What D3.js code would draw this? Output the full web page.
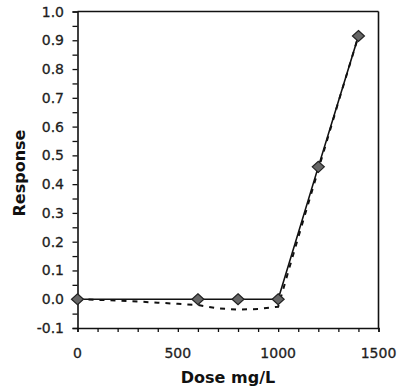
<!DOCTYPE html>
<html><head><meta charset="utf-8">
<script src="https://cdn.jsdelivr.net/npm/d3@7"></script>
<style>body{margin:0;background:#fff}svg{display:block}</style>
</head><body>
<svg id="c" width="401" height="389"></svg>
<script>
const doses = [0, 600, 800, 1000, 1200, 1400];
const responses = [0, 0, 0, 0, 0.46, 0.915];
const fitDoses = [0, 100, 200, 300, 400, 500, 600, 700, 800, 900, 1000, 1050, 1100, 1200, 1300, 1400];
const fitValues = [0, -0.002, -0.005, -0.008, -0.012, -0.016, -0.02, -0.032, -0.036, -0.034, -0.026, 0.095, 0.215, 0.45, 0.685, 0.915];
const xTickLabels = [0, 500, 1000, 1500];
const yTickLabels = [-0.1, 0, 0.1, 0.2, 0.3, 0.4, 0.5, 0.6, 0.7, 0.8, 0.9, 1.0];

const svg = d3.select("#c");
const x = d3.scaleLinear().domain([0, 1500]).range([77.5, 378.5]);
const y = d3.scaleLinear().domain([-0.1, 1.0]).range([328, 11.5]);
const font = "'DejaVu Sans', sans-serif";

// minor ticks
const xAxis = d3.axisBottom(x).tickValues(d3.range(0, 1501, 100)).tickSize(4).tickFormat(() => "");
const gx = svg.append("g").attr("transform", `translate(0,${y(-0.1)})`).call(xAxis);
const yAxis = d3.axisLeft(y).tickValues(d3.range(-0.1, 1.001, 0.05).map(v => +v.toFixed(2))).tickSize(5).tickFormat(() => "");
const gy = svg.append("g").attr("transform", `translate(${x(0)},0)`).call(yAxis);
[gx, gy].forEach(g => {
  g.select(".domain").attr("stroke", "#111").attr("stroke-width", 1.6);
  g.selectAll(".tick line").attr("stroke", "#111").attr("stroke-width", 1.3);
});

// tick labels
svg.append("g").selectAll("text").data(xTickLabels).join("text")
  .attr("x", d => x(d)).attr("y", 358)
  .attr("text-anchor", "middle").attr("font-family", font).attr("font-size", 14)
  .attr("fill", "#1e1e1e").attr("stroke", "#1e1e1e").attr("stroke-width", 0.3).text(d => d);
svg.append("g").selectAll("text").data(yTickLabels).join("text")
  .attr("x", 64).attr("y", d => y(d) + 5)
  .attr("text-anchor", "end").attr("font-family", font).attr("font-size", 14)
  .attr("fill", "#1e1e1e").attr("stroke", "#1e1e1e").attr("stroke-width", 0.3).text(d => d.toFixed(1));

// frame top and right
svg.append("line").attr("x1", x(0)).attr("x2", x(1500)).attr("y1", y(1)).attr("y2", y(1))
  .attr("stroke", "#111").attr("stroke-width", 1.6);
svg.append("line").attr("x1", x(1500)).attr("x2", x(1500)).attr("y1", y(1)).attr("y2", y(-0.1))
  .attr("stroke", "#111").attr("stroke-width", 1.6);

// fitted dashed curve
const fitLine = d3.line().x((d, i) => x(fitDoses[i])).y(d => y(d));
svg.append("path").attr("d", fitLine(fitValues)).attr("fill", "none")
  .attr("stroke", "#111").attr("stroke-width", 2).attr("stroke-dasharray", "5,6");

// data line
const dataLine = d3.line().x((d, i) => x(doses[i])).y(d => y(d));
svg.append("path").attr("d", dataLine(responses)).attr("fill", "none")
  .attr("stroke", "#111").attr("stroke-width", 1.6);

// markers
svg.append("g").selectAll("path").data(responses).join("path")
  .attr("transform", (d, i) => `translate(${x(doses[i])},${y(d)})`)
  .attr("d", "M0,-5.5L6,0L0,5.5L-6,0Z")
  .attr("fill", "#666").attr("stroke", "#222").attr("stroke-width", 1.2);

// axis titles
svg.append("text").attr("x", 228).attr("y", 383).attr("text-anchor", "middle")
  .attr("font-family", font).attr("font-size", 16).attr("font-weight", "bold")
  .attr("fill", "#111").text("Dose mg/L");
svg.append("text").attr("transform", "translate(25,173) rotate(-90)").attr("text-anchor", "middle")
  .attr("font-family", font).attr("font-size", 16).attr("font-weight", "bold")
  .attr("fill", "#111").text("Response");
</script>
</body></html>
